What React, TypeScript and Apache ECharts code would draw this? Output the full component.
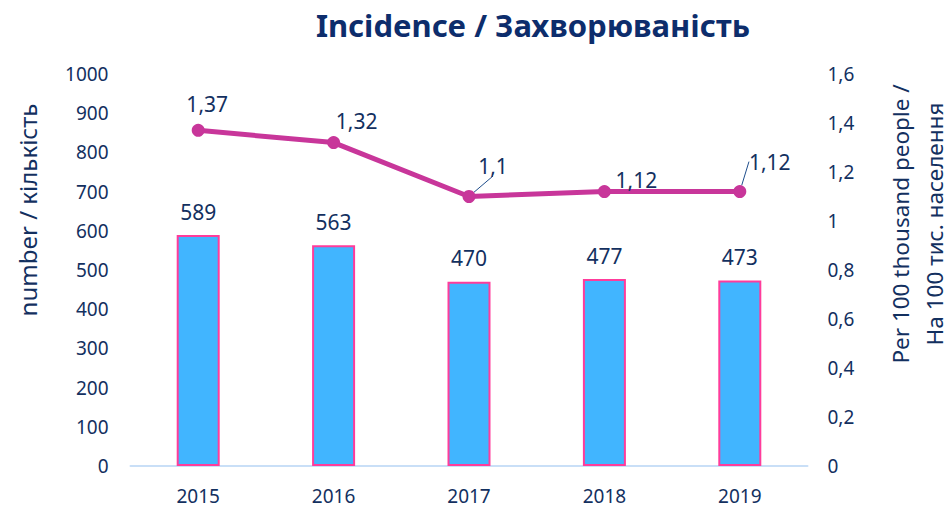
import React, { useEffect, useRef } from "react";
import * as echarts from "echarts";

const years = ["2015", "2016", "2017", "2018", "2019"];
const counts = [589, 563, 470, 477, 473];
const rates = [1.37, 1.32, 1.1, 1.12, 1.12];
const leaderIdx = [2, 4];

const TITLE = "Incidence / Захворюваність";
const LEFT_NAME = "number / кількість";
const RIGHT_NAME = "Per 100 thousand people /\nНа 100 тис. населення";

const NAVY = "#13305f";
const FONT = "'Noto Sans', sans-serif";
const labelDx = [9, 23, 24, 32, 30];
const labelDy = [-4, 0, -9, 10, -8];

export default function App() {
  const ref = useRef<HTMLDivElement>(null);
  useEffect(() => {
    if (!ref.current) return;
    const chart = echarts.init(ref.current, undefined, { renderer: "svg" });
    const fmt = (v: number) => String(+v.toFixed(2)).replace(".", ",");
    chart.setOption({
      animation: false,
      textStyle: { fontFamily: FONT },
      title: {
        text: TITLE,
        left: 528,
        top: 4,
        textAlign: "center",
        textStyle: { fontSize: 31, fontWeight: "bold", color: "#0d2d6c", fontFamily: FONT },
      },
      grid: { left: 130.5, right: 144.5, top: 74, bottom: 42, containLabel: false },
      xAxis: {
        type: "category",
        data: years,
        axisTick: { show: false },
        axisLine: { lineStyle: { color: "#c9dff7", width: 2 } },
        axisLabel: { color: NAVY, fontSize: 19, lineHeight: 20, margin: 20, fontFamily: FONT },
      },
      yAxis: [
        {
          type: "value",
          min: 0,
          max: 1000,
          interval: 100,
          axisLine: { show: false },
          axisTick: { show: false },
          splitLine: { show: false },
          axisLabel: {
            color: NAVY,
            fontSize: 19,
            margin: 22,
            fontFamily: FONT,
            formatter: (v: number) => String(v),
          },
        },
        {
          type: "value",
          min: 0,
          max: 1.6,
          interval: 0.2,
          axisLine: { show: false },
          axisTick: { show: false },
          splitLine: { show: false },
          axisLabel: {
            color: NAVY,
            fontSize: 19,
            margin: 20,
            fontFamily: FONT,
            formatter: (v: number) => fmt(v),
          },
        },
      ],
      graphic: [
        {
          type: "text",
          x: 27,
          y: 210,
          rotation: Math.PI / 2,
          style: {
            text: LEFT_NAME,
            fill: NAVY,
            font: `24px ${FONT}`,
            align: "center",
            verticalAlign: "middle",
          },
        },
        {
          type: "text",
          x: 917,
          y: 224,
          rotation: Math.PI / 2,
          style: {
            text: RIGHT_NAME,
            fill: NAVY,
            font: `22.5px ${FONT}`,
            lineHeight: 34,
            align: "center",
            verticalAlign: "middle",
          },
        },
      ],
      series: [
        {
          type: "bar",
          data: counts,
          yAxisIndex: 0,
          barWidth: 43,
          itemStyle: { color: "#41b5ff", borderColor: "#ff3c9b", borderWidth: 2 },
          label: {
            show: true,
            position: "top",
            distance: 13,
            color: NAVY,
            fontSize: 21,
            fontFamily: FONT,
          },
        },
        {
          type: "line",
          yAxisIndex: 1,
          data: rates.map((v, i) => ({
            value: v,
            labelLine: { show: leaderIdx.includes(i) },
          })),
          symbol: "circle",
          symbolSize: 13,
          lineStyle: { color: "#c8369a", width: 5 },
          itemStyle: { color: "#c8369a" },
          label: {
            show: true,
            position: "top",
            distance: 5,
            color: NAVY,
            fontSize: 21,
            fontFamily: FONT,
            formatter: (p: any) => fmt(p.value),
          },
          labelLine: { show: false, lineStyle: { color: "#1f4e8c", width: 1 } },
          labelLayout: (p: any) => ({ dx: labelDx[p.dataIndex], dy: labelDy[p.dataIndex] }),
        },
      ],
    });
    return () => chart.dispose();
  }, []);
  return (
    <div
      ref={ref}
      style={{ position: "fixed", left: 0, top: 0, width: 952, height: 508, background: "#fff" }}
    />
  );
}
